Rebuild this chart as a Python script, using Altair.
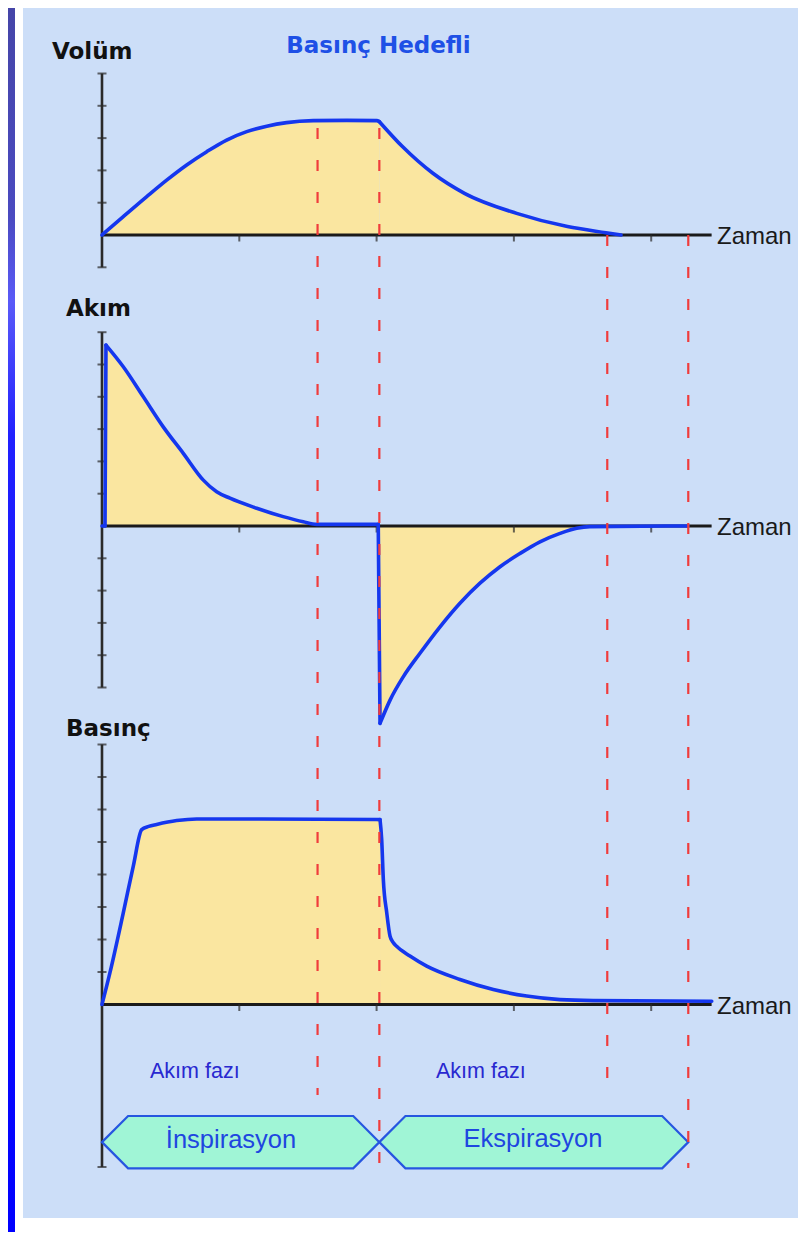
import altair as alt
import pandas as pd

# ---------------- data (time in s, arbitrary units per tick) ----------------
vol_t = [0.0, 0.155, 0.326, 0.471, 0.617, 0.763, 0.908, 1.054, 1.200, 1.345, 1.539, 1.782, 2.001,
         2.020, 2.190, 2.410, 2.640, 3.020, 3.390, 3.670, 3.780]
vol_v = [0.0, 0.57, 1.19, 1.70, 2.17, 2.58, 2.94, 3.20, 3.37, 3.48, 3.54, 3.55, 3.54,
         3.51, 2.73, 1.91, 1.29, 0.67, 0.26, 0.07, 0.0]
vol_breaks = [0, 13, 20]          # curve pieces: inspiration / expiration

flow_t = [0.0, 0.022, 0.029, 0.155, 0.301, 0.446, 0.592, 0.738, 0.835, 0.932, 1.127, 1.320, 1.466,
          1.564, 2.012, 2.025, 2.098, 2.194, 2.316, 2.462, 2.607, 2.753, 2.899, 3.045, 3.190,
          3.336, 3.457, 3.554, 4.268]
flow_v = [0.0, 0.0, 5.60, 4.93, 4.00, 3.07, 2.25, 1.42, 1.06, 0.86, 0.55, 0.29, 0.13,
          0.05, 0.05, -6.11, -5.39, -4.67, -3.94, -3.12, -2.39, -1.77, -1.26, -0.85, -0.49,
          -0.23, -0.07, -0.02, 0.0]
flow_breaks = [0, 1, 2, 14, 15, 28]   # flat / jump up / decay / jump down / recovery

pres_t = [0.0, 0.058, 0.155, 0.228, 0.289, 0.340, 0.398, 0.544, 0.690, 2.025, 2.037, 2.049,
          2.074, 2.098, 2.122, 2.146, 2.243, 2.365, 2.607, 2.850, 3.093, 3.336, 3.578, 4.441]
pres_v = [0.0, 0.98, 2.82, 4.26, 5.38, 5.48, 5.54, 5.66, 5.71, 5.69, 5.08, 3.85,
          2.82, 2.10, 1.90, 1.79, 1.49, 1.18, 0.77, 0.46, 0.26, 0.15, 0.12, 0.10]
pres_breaks = [0, 9, 23]

# phase boundaries: start, end of insp. flow, end of inspiration, end of exp. flow, end of expiration
phase_t = [0.0, 1.57, 2.02, 3.68, 4.27]
x_ticks = [1, 2, 3, 4]
axis_end_t = 4.44

vol_ticks = [-1, 1, 2, 3, 4, 5]
flow_ticks = [-5, -4, -3, -2, -1, 1, 2, 3, 4, 5, 6]
pres_ticks = [-5, 1, 2, 3, 4, 5, 6, 7, 8]

# ---------------- styles ----------------
W, H = 794, 1224
PANEL = "#CCDEF8"
FILL = "#FAE6A0"
BLUE = "#1537EE"
RED = "#F03C3C"
MINT = "#A0F5D6"
HEXBLUE = "#2656E0"
AXIS = "#1A1A1A"

xs = alt.Scale(domain=[-0.6846, 5.0983], range=[0, W], nice=False, zero=False)
vol_scale = alt.Scale(domain=[-1, 5], range=[259.3, 65.5], nice=False, zero=False)
flow_scale = alt.Scale(domain=[-5, 6], range=[679.5, 324.2], nice=False, zero=False)
pres_scale = alt.Scale(domain=[-5, 8], range=[1159, 736.5], nice=False, zero=False)

dummy = pd.DataFrame({"a": [0]})


def X(field="t"):
    return alt.X(f"{field}:Q", scale=xs, axis=None)


def piece(ts, vs, a, b):
    return pd.DataFrame({"t": ts[a:b + 1], "v": vs[a:b + 1]})


def pieces(ts, vs, breaks):
    rows = []
    for k in range(len(breaks) - 1):
        for i in range(breaks[k], breaks[k + 1] + 1):
            rows.append({"seg": k, "i": i, "t": ts[i], "v": vs[i]})
    return pd.DataFrame(rows)


def panel(ts, vs, breaks, scale, ticks):
    Y = alt.Y("v:Q", scale=scale, axis=None, stack=None)
    areas = []
    for k in range(len(breaks) - 1):
        if breaks[k + 1] - breaks[k] < 2:
            continue
        df_k = piece(ts, vs, breaks[k], breaks[k + 1])
        areas.append(alt.Chart(df_k).mark_area(color=FILL, opacity=1, interpolate="monotone").encode(
            x=X(), y=Y, y2=alt.datum(0)))
    df = pieces(ts, vs, breaks)
    line = alt.Chart(df).mark_line(color=BLUE, strokeWidth=3.6, interpolate="monotone",
                                   strokeJoin="round", strokeCap="round").encode(
        x=X(), y=Y, detail="seg:N", order="i:Q")
    xa = alt.Chart(pd.DataFrame({"t": [0.0], "t2": [axis_end_t], "v": [0.0]})).mark_rule(
        color=AXIS, strokeWidth=3).encode(x=X(), x2="t2:Q", y=Y)
    ya = alt.Chart(pd.DataFrame({"t": [0.0], "v": [min(ticks)], "v2": [max(ticks)]})).mark_rule(
        color="#2A2A2A", strokeWidth=2.6).encode(x=X(), y=Y, y2="v2:Q")
    yt = alt.Chart(pd.DataFrame({"t": [0.0] * len(ticks), "v": ticks})).mark_tick(
        orient="horizontal", size=9, thickness=2, color="#2A2A2A").encode(x=X(), y=Y)
    xt = alt.Chart(pd.DataFrame({"t": x_ticks, "v": [0.0] * len(x_ticks)})).mark_tick(
        orient="vertical", size=7, thickness=2, color="#2A2A2A", yOffset=3).encode(x=X(), y=Y)
    return areas, [xa, ya, yt, xt], [line]


v_a, v_ax, v_l = panel(vol_t, vol_v, vol_breaks, vol_scale, vol_ticks)
f_a, f_ax, f_l = panel(flow_t, flow_v, flow_breaks, flow_scale, flow_ticks)
p_a, p_ax, p_l = panel(pres_t, pres_v, pres_breaks, pres_scale, pres_ticks)

# phase hexagons (in pressure-panel units, below the pressure axis)
hex_top, hex_bot = -3.43, -5.04
hex_mid = (hex_top + hex_bot) / 2
bevel = 0.19
rows = []
for name, s, e in [("insp", phase_t[0], phase_t[2]), ("exp", phase_t[2], phase_t[4])]:
    rows += [
        {"hex": name, "t": s, "top": hex_mid, "bot": hex_mid},
        {"hex": name, "t": s + bevel, "top": hex_top, "bot": hex_bot},
        {"hex": name, "t": e - bevel, "top": hex_top, "bot": hex_bot},
        {"hex": name, "t": e, "top": hex_mid, "bot": hex_mid},
    ]
hex_df = pd.DataFrame(rows)
hexes = alt.Chart(hex_df).mark_area(fill=MINT, stroke=HEXBLUE, strokeWidth=2.2, opacity=1,
                                    strokeJoin="miter").encode(
    x=X(), y=alt.Y("top:Q", scale=pres_scale, axis=None, stack=None), y2="bot:Q",
    detail="hex:N")

# dashed phase lines
dash_layers = []
for t, y0, y1 in [(phase_t[1], 120, 1087), (phase_t[2], 120, 1160),
                  (phase_t[3], 227, 1087), (phase_t[4], 227, 1160)]:
    dash_layers.append(
        alt.Chart(pd.DataFrame({"t": [t]})).mark_rule(
            color=RED, strokeWidth=2.2, strokeDash=[11, 21]).encode(
            x=X(), y=alt.value(y0), y2=alt.value(y1)))


def label(text, x, y, size, color, align="left", bold=False, font="Liberation Sans"):
    return alt.Chart(dummy).mark_text(
        text=text, align=align, baseline="alphabetic", font=font, fontSize=size,
        fontWeight="bold" if bold else "normal", color=color).encode(
        x=alt.value(x), y=alt.value(y))


texts = [
    label("Volüm", 44, 51, 23, "#111111", bold=True, font="DejaVu Sans"),
    label("Basınç Hedefli", 370.5, 45, 23, "#1E50E6", align="center", bold=True, font="DejaVu Sans"),
    label("Akım", 58, 308, 23, "#111111", bold=True, font="DejaVu Sans"),
    label("Basınç", 58, 728, 23, "#111111", bold=True, font="DejaVu Sans"),
    label("Zaman", 709, 236, 24, "#1A1A1A"),
    label("Zaman", 709, 527, 24, "#1A1A1A"),
    label("Zaman", 709, 1005.5, 24, "#1A1A1A"),
    label("Akım fazı", 142, 1070, 21.5, "#2828D0"),
    label("Akım fazı", 428, 1070, 21.5, "#2828D0"),
    label("İnspirasyon", 223, 1139.5, 25.5, "#1E46E0", align="center"),
    label("Ekspirasyon", 525, 1139, 25.5, "#1E46E0", align="center"),
]

# background decoration
band = alt.Chart(dummy).mark_rect(
    color=alt.LinearGradient(
        gradient="linear", x1=0, x2=0, y1=0, y2=1,
        stops=[alt.GradientStop(color="#4545A8", offset=0.0),
               alt.GradientStop(color="#4A4AC0", offset=0.17),
               alt.GradientStop(color="#5A5AF8", offset=0.24),
               alt.GradientStop(color="#2020FF", offset=0.35),
               alt.GradientStop(color="#0000FF", offset=1.0)])).encode(
    x=alt.value(0), x2=alt.value(7), y=alt.value(0), y2=alt.value(H))
panel_bg = alt.Chart(dummy).mark_rect(color=PANEL).encode(
    x=alt.value(15), x2=alt.value(790), y=alt.value(0), y2=alt.value(1210))

layers = ([band, panel_bg] + v_a + f_a + p_a + v_ax + f_ax + p_ax + v_l + f_l + p_l
          + [hexes] + dash_layers + texts)

chart = alt.layer(*layers).resolve_scale(y="independent").properties(
    width=W, height=H, padding=0, autosize="none", background="white"
).configure_view(stroke=None)

chart.save("out.html", embed_options={"renderer": "svg", "actions": False})
